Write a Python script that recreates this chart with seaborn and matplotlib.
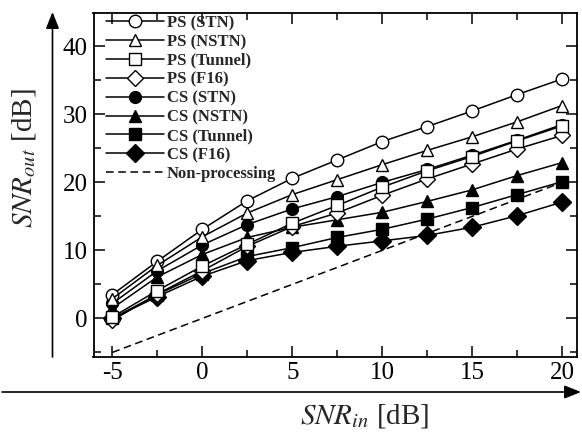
import matplotlib
matplotlib.use("Agg")
import matplotlib.pyplot as plt
from matplotlib.ticker import MultipleLocator
import seaborn as sns
import pandas as pd

# ---- data ----
snr_in = [-5, -2.5, 0, 2.5, 5, 7.5, 10, 12.5, 15, 17.5, 20]
ps_stn = [3.5, 8.4, 13.1, 17.3, 20.6, 23.3, 26.0, 28.2, 30.5, 32.9, 35.2]
ps_nstn = [2.9, 7.8, 12.0, 15.5, 18.2, 20.4, 22.6, 24.7, 26.7, 28.9, 31.3]
ps_tunnel = [0.2, 4.1, 7.7, 10.9, 14.0, 16.6, 19.3, 21.7, 23.8, 26.1, 28.3]
ps_f16 = [-0.3, 3.6, 7.0, 10.6, 13.5, 15.5, 18.1, 20.5, 22.7, 24.9, 26.9]
cs_stn = [2.2, 7.0, 10.8, 13.8, 16.1, 17.9, 20.0, 21.9, 24.0, 26.2, 28.5]
cs_nstn = [1.5, 6.1, 9.4, 11.9, 13.4, 14.5, 15.6, 17.2, 18.9, 21.0, 22.9]
cs_tunnel = [0.0, 3.5, 6.6, 9.1, 10.4, 11.9, 13.1, 14.6, 16.3, 18.2, 20.1]
cs_f16 = [0.0, 3.2, 6.2, 8.5, 9.7, 10.6, 11.4, 12.2, 13.4, 15.1, 17.1]
non_proc = [-5, -2.5, 0, 2.5, 5, 7.5, 10, 12.5, 15, 17.5, 20]

series_names = ["PS (STN)", "PS (NSTN)", "PS (Tunnel)", "PS (F16)",
                "CS (STN)", "CS (NSTN)", "CS (Tunnel)", "CS (F16)",
                "Non-processing"]
series_vals = [ps_stn, ps_nstn, ps_tunnel, ps_f16,
               cs_stn, cs_nstn, cs_tunnel, cs_f16, non_proc]

rows = []
for name, vals in zip(series_names, series_vals):
    for x, y in zip(snr_in, vals):
        rows.append({"series": name, "snr_in": x, "snr_out": y})
df = pd.DataFrame(rows)

# ---- style ----
sns.set_theme(style="ticks")
plt.rcParams["font.family"] = ["Liberation Serif", "DejaVu Serif"]
plt.rcParams["mathtext.fontset"] = "stix"
plt.rcParams["axes.unicode_minus"] = False

styles = {
    "PS (STN)": dict(marker="o", markersize=9, markerfacecolor="white", z=10),
    "PS (NSTN)": dict(marker="^", markersize=9, markerfacecolor="white", z=10),
    "PS (Tunnel)": dict(marker="s", markersize=8.5, markerfacecolor="white", z=11),
    "PS (F16)": dict(marker="D", markersize=8, markerfacecolor="white", z=9),
    "CS (STN)": dict(marker="o", markersize=8.5, markerfacecolor="black", z=6),
    "CS (NSTN)": dict(marker="^", markersize=9, markerfacecolor="black", z=6),
    "CS (Tunnel)": dict(marker="s", markersize=8.5, markerfacecolor="black", z=6),
    "CS (F16)": dict(marker="D", markersize=9, markerfacecolor="black", z=6),
}

fig = plt.figure(figsize=(5.82, 4.41), dpi=100)
W, H = 582, 441
ax = fig.add_axes([93.5 / W, (H - 356.5) / H, (577 - 93.5) / W, (356.5 - 13) / H])

handles = []
for name in series_names:
    sub = df[df["series"] == name]
    if name == "Non-processing":
        sns.lineplot(data=sub, x="snr_in", y="snr_out", ax=ax, color="black",
                     linewidth=1.1, linestyle=(0, (5, 3)), zorder=3,
                     label=name, legend=False)
    else:
        st = styles[name]
        sns.lineplot(data=sub, x="snr_in", y="snr_out", ax=ax, color="black",
                     linewidth=1.1, marker=st["marker"], markersize=st["markersize"],
                     markerfacecolor=st["markerfacecolor"], markeredgecolor="black",
                     markeredgewidth=1.0, zorder=st["z"], label=name, legend=False)
    handles.append(ax.lines[-1])

ax.set_xlim(-6.05, 20.83)
ax.set_ylim(-5.6, 44.9)
ax.xaxis.set_major_locator(MultipleLocator(5))
ax.xaxis.set_minor_locator(MultipleLocator(2.5))
ax.yaxis.set_major_locator(MultipleLocator(10))
ax.yaxis.set_minor_locator(MultipleLocator(5))
ax.tick_params(which="both", direction="in", top=True, right=True,
               width=1.1, colors="black", labelsize=18, pad=4)
ax.tick_params(which="major", length=8)
ax.tick_params(which="minor", length=5)
ax.set_xlabel("")
ax.set_ylabel("")
for sp in ax.spines.values():
    sp.set_linewidth(1.3)
    sp.set_color("black")

leg = ax.legend(handles, series_names, loc="upper left", frameon=False,
                prop={"family": "Liberation Serif", "weight": "bold", "size": 12},
                handlelength=3.5, handletextpad=0.15, labelspacing=0.17,
                borderaxespad=0.0, bbox_to_anchor=(0.012, 1.013))

# axis arrows
arrow_kw = dict(transform=fig.transFigure, arrowstyle="-|>,head_length=4,head_width=1.6",
                color="black", linewidth=1.2, mutation_scale=2.5, shrinkA=0, shrinkB=0)
fig.patches.append(matplotlib.patches.FancyArrowPatch(
    (2 / W, (H - 392) / H), (581 / W, (H - 392) / H), **arrow_kw))
fig.patches.append(matplotlib.patches.FancyArrowPatch(
    (52.5 / W, (H - 357) / H), (52.5 / W, (H - 12) / H), **arrow_kw))

fig.text(365 / W, (H - 416) / H, r"$SNR_{in}$ [dB]", ha="center", va="center",
         fontsize=21)
fig.text(24 / W, (H - 158) / H, r"$SNR_{out}$ [dB]", ha="center", va="center",
         fontsize=21, rotation=90)

fig.savefig("out.png", dpi=100)
